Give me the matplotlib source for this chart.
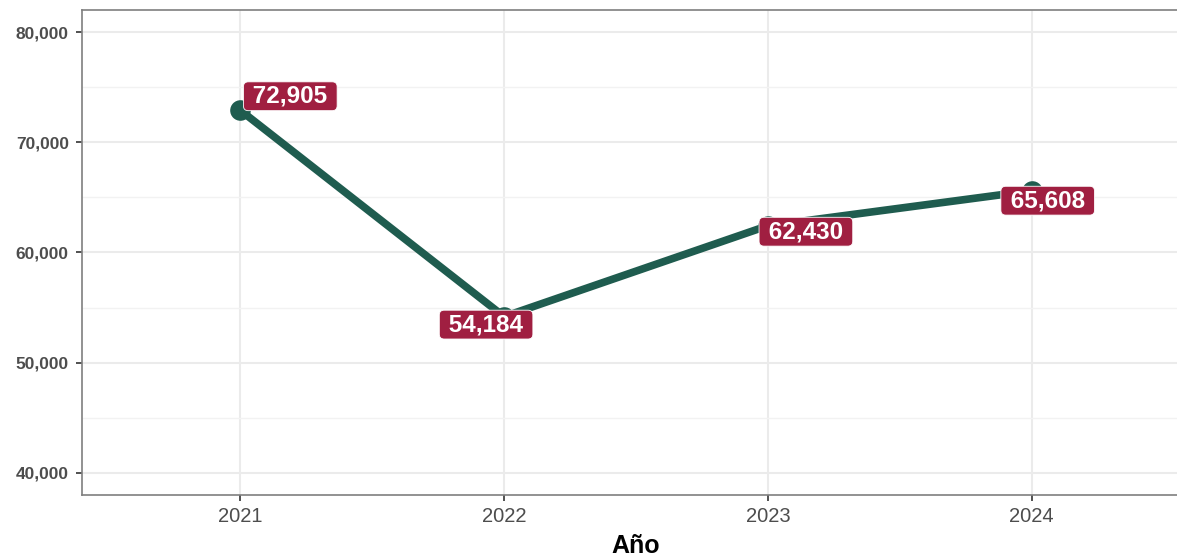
import matplotlib
matplotlib.use("Agg")
import matplotlib.pyplot as plt
from matplotlib.ticker import FuncFormatter, MultipleLocator

plt.rcParams['font.family'] = ['Liberation Sans', 'DejaVu Sans']

years = [2021, 2022, 2023, 2024]
values = [72905, 54184, 62430, 65608]
label_offsets_px = [(50, 14), (-18, -8), (38, -6), (16, -10)]

line_color = '#1f5c4f'
label_color = '#a01f41'

fig = plt.figure(figsize=(11.77, 5.56), dpi=100)
ax = fig.add_axes([82/1177, 61/556, (1190-82)/1177, (495-10)/556])

ax.set_xlim(2020.4, 2024.6)
ax.set_ylim(38000, 82000)

ax.yaxis.set_major_locator(MultipleLocator(10000))
ax.yaxis.set_minor_locator(MultipleLocator(5000))
ax.set_xticks(years)
ax.set_xticks([2021.5, 2022.5, 2023.5], minor=True)
ax.yaxis.set_major_formatter(FuncFormatter(lambda v, p: f"{int(v):,}"))

ax.grid(which='major', color='#ebebeb', linewidth=1.5, zorder=0)
ax.grid(which='minor', axis='y', color='#f2f2f2', linewidth=1.0, zorder=0)
ax.set_axisbelow(True)
for s in ax.spines.values():
    s.set_color('#7f7f7f')
    s.set_linewidth(1.2)
ax.spines['right'].set_visible(False)

ax.tick_params(axis='both', which='major', color='#333333', length=4.5, width=1.2)
ax.tick_params(axis='both', which='minor', length=0)
ax.tick_params(axis='y', labelsize=12.5, labelcolor='#4d4d4d', pad=5)
ax.tick_params(axis='x', labelsize=14.5, labelcolor='#4d4d4d', pad=4)
for lbl in ax.get_yticklabels():
    lbl.set_fontweight('bold')

ax.plot(years, values, color=line_color, linewidth=5.5, solid_capstyle='round', zorder=3)
ax.scatter(years, values, s=220, color=line_color, zorder=4, linewidths=0)

for x, y, (dx, dy) in zip(years, values, label_offsets_px):
    ax.annotate(f" {y:,} ", xy=(x, y), xytext=(dx, dy), textcoords='offset pixels',
                ha='center', va='center', color='white', fontsize=17.5, fontweight='bold',
                bbox=dict(boxstyle='round,pad=0.12,rounding_size=0.2', fc=label_color,
                          ec='white', lw=0.6),
                zorder=5)

ax.set_xlabel('Año', fontsize=18, fontweight='bold', color='black', labelpad=6)

fig.savefig('out.png', dpi=100)
